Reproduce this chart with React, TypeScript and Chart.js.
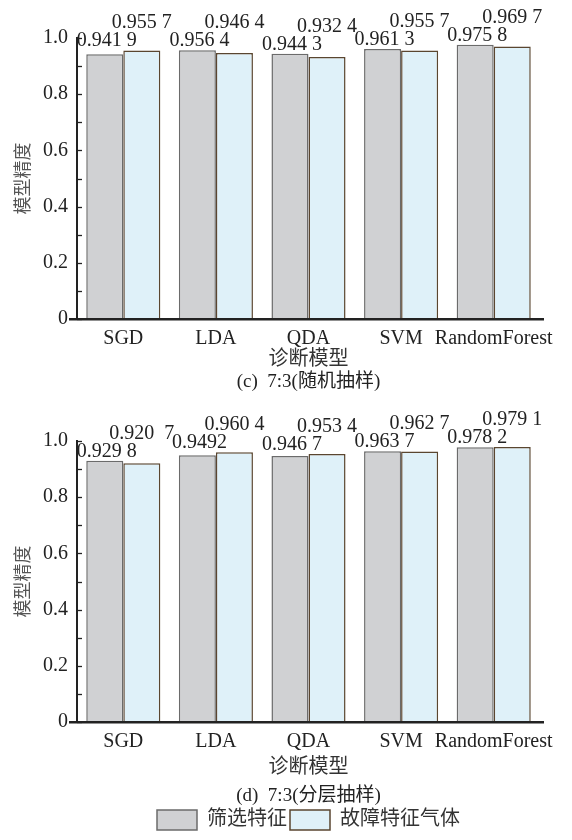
import React, { useEffect, useRef } from 'react';
import { Chart, registerables } from 'chart.js';

Chart.register(...registerables);

// ---------- data ----------
const categories = ['SGD', 'LDA', 'QDA', 'SVM', 'RandomForest'];
const seriesNames = ['筛选特征', '故障特征气体'];

const randomSelected = [0.9419, 0.9564, 0.9443, 0.9613, 0.9758];
const randomFault = [0.9557, 0.9464, 0.9324, 0.9557, 0.9697];
const randomSelectedLabels = ['0.941 9', '0.956 4', '0.944 3', '0.961 3', '0.975 8'];
const randomFaultLabels = ['0.955 7', '0.946 4', '0.932 4', '0.955 7', '0.969 7'];

const stratSelected = [0.9298, 0.9492, 0.9467, 0.9637, 0.9782];
const stratFault = [0.9207, 0.9604, 0.9534, 0.9627, 0.9791];
const stratSelectedLabels = ['0.929 8', '0.9492', '0.946 7', '0.963 7', '0.978 2'];
const stratFaultLabels = ['0.920  7', '0.960 4', '0.953 4', '0.962 7', '0.979 1'];

const xTitle = '诊断模型';
const yTitle = '模型精度';
const captions = ['(c)  7:3(随机抽样)', '(d)  7:3(分层抽样)'];

// ---------- styles ----------
const FONT = "'Liberation Serif', 'Noto Sans CJK SC', serif";
const GRAY_FILL = '#d0d1d3';
const GRAY_EDGE = '#6b6b6b';
const BLUE_FILL = '#dff1f9';
const BLUE_EDGE = '#5a4630';

const decorPlugin = {
  id: 'decor',
  afterDatasetsDraw(chart: any, _args: any, opts: any) {
    const ctx = chart.ctx;
    const m0 = chart.getDatasetMeta(0);
    const m1 = chart.getDatasetMeta(1);
    ctx.save();
    ctx.font = `20px ${FONT}`;
    ctx.fillStyle = '#222';
    ctx.textAlign = 'center';
    ctx.textBaseline = 'alphabetic';
    m0.data.forEach((b0: any, i: number) => {
      const b1 = m1.data[i];
      const top = Math.min(b0.y, b1.y);
      ctx.fillText(opts.labels[0][i], b0.x + 2, top - 4);
      ctx.fillText(opts.labels[1][i], b1.x, top - 22);
    });
    const { left, right, bottom } = chart.chartArea;
    const y = chart.scales.y;
    ctx.strokeStyle = '#222';
    ctx.lineWidth = 1.3;
    y.ticks.forEach((t: any) => {
      const py = Math.round(y.getPixelForValue(t.value)) + 0.5;
      ctx.beginPath();
      ctx.moveTo(left, py);
      ctx.lineTo(left + 5, py);
      ctx.stroke();
    });
    ctx.lineWidth = 2.5;
    ctx.beginPath();
    ctx.moveTo(left - 8, bottom);
    ctx.lineTo(right + 4, bottom);
    ctx.stroke();
    ctx.restore();
  },
};

function makeConfig(
  selected: number[],
  fault: number[],
  selLabels: string[],
  faultLabels: string[],
  caption: string,
  topPad: number,
  xHeight: number,
  tickPad: number,
  captionPad: { top: number; bottom: number },
  showLegend: boolean
): any {
  return {
    type: 'bar',
    data: {
      labels: categories,
      datasets: [
        {
          label: seriesNames[0],
          data: selected,
          backgroundColor: GRAY_FILL,
          borderColor: GRAY_EDGE,
          borderWidth: 1.5,
          categoryPercentage: 0.8,
          barPercentage: 1.0,
        },
        {
          label: seriesNames[1],
          data: fault,
          backgroundColor: BLUE_FILL,
          borderColor: BLUE_EDGE,
          borderWidth: 1.5,
          categoryPercentage: 0.8,
          barPercentage: 1.0,
        },
      ],
    },
    options: {
      responsive: false,
      animation: false,
      devicePixelRatio: 1,
      layout: { padding: { top: topPad, right: 32, bottom: 0, left: 0 } },
      scales: {
        x: {
          grid: { display: false, drawTicks: false },
          border: { display: false },
          ticks: { font: { family: FONT, size: 20 }, color: '#222', padding: tickPad, maxRotation: 0, autoSkip: false },
          title: {
            display: true,
            text: xTitle,
            font: { family: FONT, size: 20 },
            color: '#333',
            padding: { top: 0, bottom: 0 },
          },
          afterFit: (s: any) => {
            s.height = xHeight;
          },
        },
        y: {
          min: 0,
          max: 1,
          ticks: {
            stepSize: 0.1,
            autoSkip: false,
            font: { family: FONT, size: 20 },
            color: '#222',
            padding: 9,
            callback: (v: number) => {
              const k = Math.round(v * 10);
              if (k % 2 !== 0) return '';
              return k === 0 ? '0' : (k / 10).toFixed(1);
            },
          },
          grid: { drawOnChartArea: false, drawTicks: false, color: 'rgba(0,0,0,0)' },
          border: { display: true, color: '#222', width: 2 },
          title: {
            display: true,
            text: yTitle,
            font: { family: FONT, size: 18 },
            color: '#555',
            padding: { top: 13, bottom: 0 },
          },
          afterFit: (s: any) => {
            s.width = 77;
          },
        },
      },
      plugins: {
        tooltip: { enabled: false },
        legend: {
          display: showLegend,
          position: 'bottom',
          fullSize: false,
          weight: 1000,
          labels: {
            boxWidth: 40,
            boxHeight: 20,
            padding: 3,
            color: '#333',
            font: { family: FONT, size: 20 },
          },
        },
        title: {
          display: true,
          text: caption,
          position: 'bottom',
          fullSize: false,
          weight: 500,
          color: '#222',
          font: { family: FONT, size: 19, weight: 'normal' },
          padding: captionPad,
        },
        decor: { labels: [selLabels, faultLabels] },
      },
    },
    plugins: [decorPlugin],
  };
}

function BarPanel(props: { config: any; width: number; height: number; top: number }) {
  const ref = useRef<HTMLCanvasElement | null>(null);
  useEffect(() => {
    if (!ref.current) return;
    const chart = new Chart(ref.current, props.config);
    return () => chart.destroy();
  }, []);
  return (
    <canvas
      ref={ref}
      width={props.width}
      height={props.height}
      style={{ position: 'absolute', left: 0, top: props.top, width: props.width, height: props.height }}
    />
  );
}

export default function App() {
  const cfgTop = makeConfig(
    randomSelected,
    randomFault,
    randomSelectedLabels,
    randomFaultLabels,
    captions[0],
    38,
    53,
    8,
    { top: -2, bottom: 7 },
    false
  );
  const cfgBottom = makeConfig(
    stratSelected,
    stratFault,
    stratSelectedLabels,
    stratFaultLabels,
    captions[1],
    41,
    58,
    8,
    { top: 4, bottom: 0 },
    true
  );
  return (
    <div style={{ position: 'absolute', left: 0, top: 0, width: 572, height: 840, background: '#fff' }}>
      <BarPanel config={cfgTop} width={572} height={400} top={0} />
      <BarPanel config={cfgBottom} width={572} height={440} top={400} />
    </div>
  );
}
